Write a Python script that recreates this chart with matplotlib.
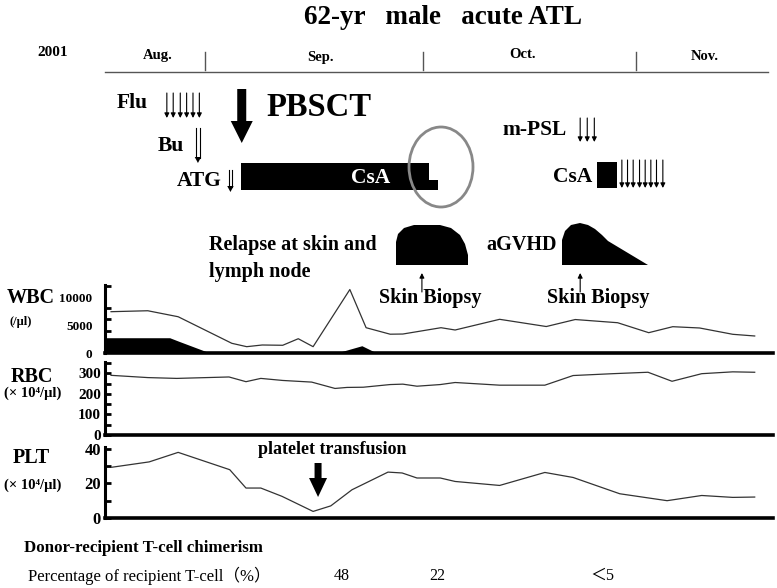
import matplotlib
matplotlib.use('Agg')
import matplotlib.pyplot as plt
from matplotlib.patches import Polygon, Rectangle, Ellipse

SERIF = ['Liberation Serif', 'DejaVu Serif', 'Noto Sans CJK JP']
plt.rcParams['font.family'] = SERIF

# ---------------- data (x = day, Aug 1 = day 0, Sep 1 = day 31) ----------------
wbc_days = [17.7, 22.9, 27.2, 34.8, 36.9, 39.1, 42.0, 44.2, 46.3, 51.5, 53.8, 57.2,
            59.0, 64.4, 66.4, 72.7, 79.3, 83.4, 89.4, 93.8, 97.2, 101.0, 105.7, 108.8]
wbc = [7380, 7550, 6480, 1730, 1130, 1430, 1380, 2550, 1130, 11340, 4520, 3360,
       3390, 4520, 4110, 6020, 4730, 5980, 5410, 3630, 4700, 4470, 3340, 3040]

atl_days = [16.9, 26.0, 27.2, 31.7, 49.6, 53.2, 55.3, 108.8]
atl_cells = [2730, 2730, 2140, 0, 0, 1300, 0, 0]

rbc_days = [17.7, 22.9, 27.0, 34.4, 36.8, 38.9, 42.0, 46.1, 49.4, 51.1, 53.4, 57.2, 59.0,
            61.0, 64.3, 66.4, 72.7, 79.1, 83.1, 88.7, 93.7, 97.1, 101.3, 105.7, 108.8]
rbc = [291, 280, 276, 283, 260, 276, 266, 258, 227, 232, 233, 246, 248,
       238, 246, 256, 243, 243, 290, 299, 306, 262, 299, 308, 306]

plt_days = [17.8, 23.1, 27.2, 34.5, 36.8, 38.9, 41.9, 46.3, 48.8, 51.8, 56.9, 58.9,
            61.0, 64.3, 66.4, 72.7, 79.1, 83.1, 89.7, 96.4, 101.3, 105.7, 108.8]
plt_vals = [29.3, 32.4, 37.9, 27.9, 17.3, 17.3, 12.5, 3.8, 7.0, 16.3, 26.5, 26.0,
            23.1, 23.1, 21.1, 18.8, 26.3, 23.4, 14.0, 10.0, 13.0, 11.9, 12.1]

months = ['Aug.', 'Sep.', 'Oct.', 'Nov.']
flu_days = [25.6, 26.5, 27.5, 28.4, 29.3, 30.2]
bu_day = 30.0
atg_day = 34.6
pbsct_day = 36.2
csa_full = (36.1, 62.7)
csa_taper_end = 64.0
mpsl_days = [84.1, 85.1, 86.1]
csa2_bar = (86.5, 89.3)
csa2_days = [90.0, 90.8, 91.6, 92.5, 93.3, 94.1, 94.9, 95.8]
biopsy_days = [61.7, 84.1]
transfusion_day = 47.0
chim_days = [50.4, 63.8, 87.2]
chim_labels = ['48', '22', '＜5']

# ---------------- layout helpers (pixel -> day) ----------------
W, H = 777, 588
K = (636 - 205) / 61.0


def X(p):
    return 31 + (p - 205) / K


fig = plt.figure(figsize=(W / 100, H / 100), dpi=100)


def panel(top, bottom):
    ax = fig.add_axes([105 / W, 1 - bottom / H, 668 / W, (bottom - top) / H])
    ax.set_facecolor('none')
    ax.set_xlim(X(105), X(773))
    for s in ['top', 'right']:
        ax.spines[s].set_visible(False)
    ax.spines['bottom'].set_linewidth(2.6)
    ax.spines['left'].set_linewidth(2.2)
    ax.set_xticks([])
    ax.tick_params(axis='y', which='both', direction='in', width=2, length=4, pad=3)
    return ax


# WBC
ax1 = panel(285, 353)
ax1.set_ylim(0, 12150)
ax1.fill_between(atl_days, atl_cells, 0, color='black', lw=0)
ax1.plot(wbc_days, wbc, color='#333333', lw=0.9)
ax1.set_yticks([0, 5000, 10000])
ax1.set_yticks(list(range(0, 12001, 2000)), minor=True)
ax1.tick_params(axis='y', which='major', length=0, pad=9)
ax1.set_yticklabels(['0', '5000', '10000'], fontsize=9.5, fontweight='bold')

# RBC
ax2 = panel(362, 435)
ax2.set_ylim(0, 356)
ax2.plot(rbc_days, rbc, color='#333333', lw=0.9)
ax2.set_yticks([0, 100, 200, 300])
ax2.set_yticks([50, 150, 250, 350], minor=True)
ax2.set_yticklabels(['0', '100', '200', '300'], fontsize=11, fontweight='bold')

# PLT
ax3 = panel(447, 518)
ax3.set_ylim(0, 41)
ax3.plot(plt_days, plt_vals, color='#333333', lw=0.9)
ax3.set_yticks([0, 20, 40])
ax3.set_yticks([10, 30], minor=True)
ax3.set_yticklabels(['0', '20', '40'], fontsize=12, fontweight='bold')

# ---------------- overlay ----------------
ov = fig.add_axes([0, 0, 1, 1])
ov.set_xlim(X(0), X(W))
ov.set_ylim(H, 0)
ov.axis('off')
ov.patch.set_visible(False)

B = dict(fontweight='bold', color='black')

ov.text(X(443), 17, '62-yr   male   acute ATL', ha='center', va='center', fontsize=19.5, **B)
ov.text(X(53), 52, '2001', ha='center', va='center', fontsize=11, **B)
for m, px, py in zip(months, [158, 320, 523, 705], [55, 57, 55, 56]):
    ov.text(X(px), py, m, ha='center', va='center', fontsize=10.5, **B)
ov.plot([X(105), X(768)], [72, 72], color='#555555', lw=1)
for px in [205, 423, 636]:
    ov.plot([X(px), X(px)], [52, 70], color='#555555', lw=1)


def down_arrow(xd, y0, y1, lw=0.8, ms=7):
    ov.annotate('', xy=(xd, y1), xytext=(xd, y0),
                arrowprops=dict(arrowstyle='-|>', color='black', lw=lw,
                                mutation_scale=ms, shrinkA=0, shrinkB=0))


def double_arrow(xd, y0, y1):
    d = 1.8 / K
    ov.plot([xd - d, xd - d], [y0, y1 - 5], color='black', lw=0.8)
    ov.plot([xd + d, xd + d], [y0, y1 - 5], color='black', lw=0.8)
    ov.add_patch(Polygon([(xd - 3.2 / K, y1 - 6), (xd + 3.2 / K, y1 - 6), (xd, y1)],
                         closed=True, color='black', lw=0))


# Flu
ov.text(X(117), 103, 'Flu', ha='left', va='center', fontsize=15.5, **B)
for d in flu_days:
    down_arrow(d, 93, 118)
# Bu
ov.text(X(158), 146, 'Bu', ha='left', va='center', fontsize=15.5, **B)
double_arrow(bu_day, 128, 163)
# ATG
ov.text(X(177), 181, 'ATG', ha='left', va='center', fontsize=15.5, **B)
double_arrow(atg_day, 170, 192)

# PBSCT big arrow
sw, hw = 4.5 / K, 11 / K
ov.add_patch(Polygon([(pbsct_day - sw, 89), (pbsct_day + sw, 89), (pbsct_day + sw, 121),
                      (pbsct_day + hw, 121), (pbsct_day, 143), (pbsct_day - hw, 121),
                      (pbsct_day - sw, 121)], closed=True, color='black', lw=0))
ov.text(X(266), 108, 'PBSCT', ha='left', va='center', fontsize=23.5, **B)

# CsA bar 1
ov.add_patch(Rectangle((csa_full[0], 163), csa_full[1] - csa_full[0], 27, color='black', lw=0))
ov.add_patch(Rectangle((csa_full[1] - 0.05, 180), csa_taper_end - csa_full[1] + 0.05, 10,
                       color='black', lw=0))
ov.text(X(371), 178, 'CsA', ha='center', va='center', fontsize=15.5, fontweight='bold',
        color='white')
ov.add_patch(Ellipse((X(441), 167), X(473) - X(409), 80, facecolor='none',
                     edgecolor='#888888', lw=2))

# m-PSL
ov.text(X(502), 130, 'm-PSL', ha='left', va='center', fontsize=15.5, **B)
for d in mpsl_days:
    down_arrow(d, 118, 142)
# CsA 2
ov.text(X(553), 177, 'CsA', ha='left', va='center', fontsize=15.5, **B)
ov.add_patch(Rectangle((csa2_bar[0], 162), csa2_bar[1] - csa2_bar[0], 26, color='black', lw=0))
for d in csa2_days:
    down_arrow(d, 160, 188)

# Relapse & aGVHD humps
relapse = [(396, 265), (396, 242), (398, 234), (404, 228), (414, 225), (440, 225),
           (451, 228), (460, 235), (465, 244), (468, 255), (468, 265)]
gvhd = [(562, 265), (562, 240), (565, 231), (571, 225), (580, 223), (588, 225),
        (595, 229), (602, 235), (608, 241), (648, 265)]
ov.add_patch(Polygon([(X(a), b) for a, b in relapse], closed=True, color='black', lw=0))
ov.add_patch(Polygon([(X(a), b) for a, b in gvhd], closed=True, color='black', lw=0))
ov.text(X(209), 245, 'Relapse at skin and', ha='left', va='center', fontsize=14.5, **B)
ov.text(X(209), 272, 'lymph node', ha='left', va='center', fontsize=14.5, **B)
ov.text(X(486), 245, 'aGVHD', ha='left', va='center', fontsize=14.5, **B)

for d, tx in zip(biopsy_days, [430, 598]):
    ov.annotate('', xy=(d, 273), xytext=(d, 292),
                arrowprops=dict(arrowstyle='-|>', color='black', lw=0.8,
                                mutation_scale=7, shrinkA=0, shrinkB=0))
    ov.text(X(tx), 298, 'Skin Biopsy', ha='center', va='center', fontsize=14.5, **B)

# labels for panels
ov.text(X(31), 298, 'WBC', ha='center', va='center', fontsize=14.5, **B)
ov.text(X(21), 322, '(/μl)', ha='center', va='center', fontsize=9, **B)
ov.text(X(32), 377, 'RBC', ha='center', va='center', fontsize=14.5, **B)
ov.text(X(33), 393, '(× 10⁴/μl)', ha='center', va='center', fontsize=10.5, **B)
ov.text(X(31), 458, 'PLT', ha='center', va='center', fontsize=14.5, **B)
ov.text(X(33), 485, '(× 10⁴/μl)', ha='center', va='center', fontsize=10.5, **B)

# platelet transfusion
ov.text(X(258), 450, 'platelet transfusion', ha='left', va='center', fontsize=13, **B)
sw, hw = 3.5 / K, 9 / K
ov.add_patch(Polygon([(transfusion_day - sw, 463), (transfusion_day + sw, 463),
                      (transfusion_day + sw, 478), (transfusion_day + hw, 478),
                      (transfusion_day, 497), (transfusion_day - hw, 478),
                      (transfusion_day - sw, 478)], closed=True, color='black', lw=0))

# chimerism
ov.text(X(24), 548, 'Donor-recipient T-cell chimerism', ha='left', va='center',
        fontsize=12.2, **B)
ov.text(X(28), 576, 'Percentage of recipient T-cell（%）', ha='left', va='center',
        fontsize=12, color='black')
for d, lab in zip(chim_days, chim_labels):
    ov.text(d, 576, lab, ha='center', va='center', fontsize=11.5, color='black')

fig.savefig('out.png', dpi=100)
